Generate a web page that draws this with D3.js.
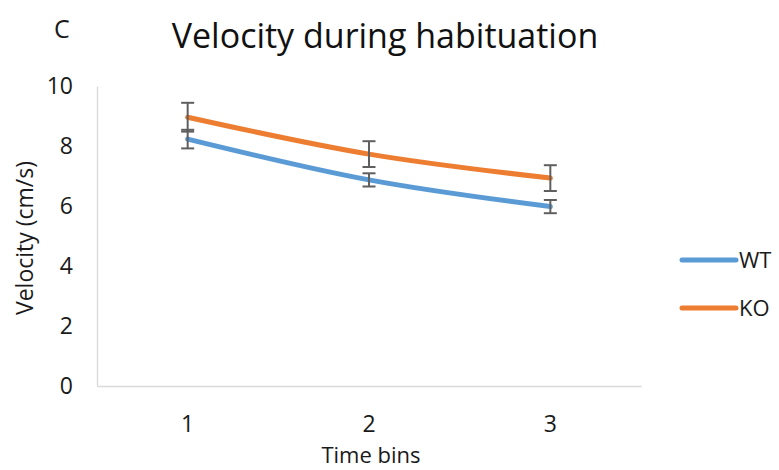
<!DOCTYPE html>
<html>
<head>
<meta charset="utf-8">
<script src="https://cdn.jsdelivr.net/npm/d3@7"></script>
<style>
  html, body { margin: 0; padding: 0; background: #fff; }
  svg { display: block; font-family: "Open Sans", "Liberation Sans", sans-serif; }
</style>
</head>
<body>
<svg id="chart" width="779" height="470"></svg>
<script>
// Mean velocity per time bin, with error (±)
const timeBins = ["1", "2", "3"];
const wtValues = [8.23, 6.87, 5.98];
const wtErrors = [0.31, 0.22, 0.22];
const koValues = [8.96, 7.73, 6.93];
const koErrors = [0.48, 0.43, 0.43];
const yTicks = [0, 2, 4, 6, 8, 10];

const series = [
  { name: "WT", values: wtValues, errors: wtErrors, color: "#5B9BD5" },
  { name: "KO", values: koValues, errors: koErrors, color: "#ED7D31" }
];

const svg = d3.select("#chart");
const plot = { left: 97, right: 641, top: 86, bottom: 386 };
const textColor = "#1a1a1a";

const x = d3.scaleBand().domain(timeBins).range([plot.left, plot.right]);
const xc = d => x(d) + x.bandwidth() / 2;
const y = d3.scaleLinear().domain([0, 10]).range([plot.bottom, plot.top]);

// Panel letter and title
svg.append("text").attr("x", 54).attr("y", 38)
  .attr("font-size", 25).attr("fill", textColor).text("C");
svg.append("text").attr("x", 385).attr("y", 48).attr("text-anchor", "middle")
  .attr("font-size", 34).attr("fill", "#111").text("Velocity during habituation");

// Axes
const yAxis = svg.append("g").attr("transform", `translate(${plot.left},0)`)
  .call(d3.axisLeft(y).tickValues(yTicks).tickSize(0).tickPadding(24));
const xAxis = svg.append("g").attr("transform", `translate(0,${plot.bottom})`)
  .call(d3.axisBottom(x).tickSize(0).tickPadding(30));
[yAxis, xAxis].forEach(g => {
  g.select(".domain").attr("stroke", "#d9d9d9").attr("stroke-width", 1.3);
  g.selectAll("text").attr("font-size", 23).attr("fill", textColor)
    .attr("font-family", "\"Open Sans\", \"Liberation Sans\", sans-serif");
});

// Axis titles
svg.append("text").attr("transform", "translate(33,238) rotate(-90)")
  .attr("text-anchor", "middle").attr("font-size", 23).attr("fill", textColor)
  .text("Velocity (cm/s)");
svg.append("text").attr("x", 371).attr("y", 463).attr("text-anchor", "middle")
  .attr("font-size", 22).attr("fill", textColor).text("Time bins");

// Series lines
const line = d3.line()
  .x((d, i) => xc(timeBins[i]))
  .y(d => y(d))
  .curve(d3.curveMonotoneX);

series.forEach(s => {
  svg.append("path").datum(s.values)
    .attr("d", line)
    .attr("fill", "none")
    .attr("stroke", s.color)
    .attr("stroke-width", 5)
    .attr("stroke-linecap", "round");
});

// Error bars
const cap = 6.5;
series.forEach(s => {
  const g = svg.append("g").attr("stroke", "#5f5f5f").attr("stroke-width", 2);
  s.values.forEach((v, i) => {
    const cx = xc(timeBins[i]);
    const hi = y(v + s.errors[i]), lo = y(v - s.errors[i]);
    g.append("line").attr("x1", cx).attr("x2", cx).attr("y1", hi).attr("y2", lo);
    g.append("line").attr("x1", cx - cap).attr("x2", cx + cap).attr("y1", hi).attr("y2", hi);
    g.append("line").attr("x1", cx - cap).attr("x2", cx + cap).attr("y1", lo).attr("y2", lo);
  });
});

// Legend
series.forEach((s, i) => {
  const ly = 260 + i * 48;
  svg.append("line").attr("x1", 682).attr("x2", 736).attr("y1", ly).attr("y2", ly)
    .attr("stroke", s.color).attr("stroke-width", 5).attr("stroke-linecap", "round");
  svg.append("text").attr("x", 739).attr("y", ly + 8)
    .attr("font-size", 22).attr("fill", textColor).text(s.name);
});
</script>
</body>
</html>
